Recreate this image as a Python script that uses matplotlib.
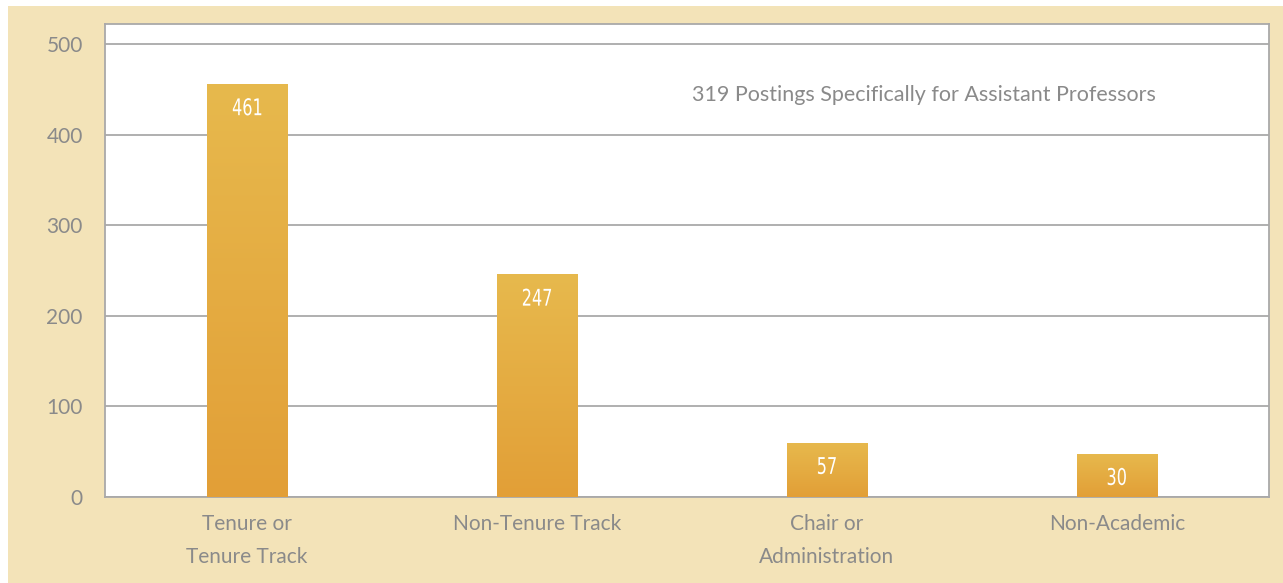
import numpy as np
import matplotlib.pyplot as plt
from matplotlib.colors import LinearSegmentedColormap
from matplotlib.patches import Rectangle, PathPatch
from matplotlib.textpath import TextPath
from matplotlib.font_manager import FontProperties
from matplotlib.transforms import Affine2D, IdentityTransform

# values
categories = ["Tenure or\nTenure Track", "Non-Tenure Track", "Chair or\nAdministration", "Non-Academic"]
bar_heights = [456, 246, 60, 48]      # drawn heights
bar_labels = ["461", "247", "57", "30"]  # printed numbers
y_ticks = [0, 100, 200, 300, 400, 500]
note = "319 Postings Specifically for Assistant Professors"

beige = "#f3e3b8"
grey_txt = "#8a8a8a"
grid_col = "#a9a9a9"

fig = plt.figure(figsize=(12.83, 5.83), dpi=100, facecolor="white")
# beige card behind the chart
fig.add_artist(Rectangle((8 / 1283, 0), 1 - 8 / 1283, 1 - 6 / 583,
                         transform=fig.transFigure, facecolor=beige,
                         edgecolor="none", zorder=-10))

ax = fig.add_axes([105 / 1283, 86 / 583, 1164 / 1283, 473 / 583])
ax.set_facecolor("white")

x = np.arange(len(categories))
bars = ax.bar(x, bar_heights, width=0.276, color="none", zorder=3)

# vertical gradient in each bar, yellow on top, orange at bottom
cmap = LinearSegmentedColormap.from_list("gold", ["#e29f37", "#e7b94d"])
grad = np.linspace(0, 1, 256).reshape(-1, 1)
for b in bars:
    x0 = b.get_x()
    x1 = x0 + b.get_width()
    h = b.get_height()
    im = ax.imshow(grad, cmap=cmap, origin="lower", aspect="auto",
                   extent=[x0, x1, 0, h], zorder=3)
    im.set_clip_path(b)
ax.set_xlim(-0.49, 3.525)
ax.set_ylim(0, 522)

# value labels: condensed look by squeezing the glyph outlines
fp = FontProperties(family="DejaVu Sans")
for b, lab in zip(bars, bar_labels):
    tp = TextPath((0, 0), lab, size=23, prop=fp)
    ext = tp.get_extents()
    cx, cy = (ext.x0 + ext.x1) / 2, (ext.y0 + ext.y1) / 2
    px, py = ax.transData.transform((b.get_x() + b.get_width() / 2, b.get_height()))
    tr = Affine2D().translate(-cx, -cy).scale(0.7, 1).translate(px, py - 23)
    ax.add_artist(PathPatch(tr.transform_path(tp), transform=IdentityTransform(),
                            facecolor="white", edgecolor="none", zorder=4))

ax.set_yticks(y_ticks)
ax.yaxis.grid(True, color=grid_col, linewidth=1.3, zorder=0)
ax.set_axisbelow(True)
ax.set_xticks(x)
ax.set_xticklabels(categories, linespacing=1.85)
ax.tick_params(length=0, colors=grey_txt, labelsize=15)
ax.tick_params(axis="y", pad=16)
ax.tick_params(axis="x", pad=12)
for lbl in ax.get_xticklabels() + ax.get_yticklabels():
    lbl.set_family(["Lato", "DejaVu Sans"])
for s in ax.spines.values():
    s.set_color(grid_col)
    s.set_linewidth(1.3)

ax.text((692 - 105) / 1164, (497 - 95) / 473, note, transform=ax.transAxes,
        ha="left", va="center", fontsize=15.5, color=grey_txt,
        family=["Lato", "DejaVu Sans"])

fig.savefig("out.png", dpi=100, facecolor=fig.get_facecolor())
